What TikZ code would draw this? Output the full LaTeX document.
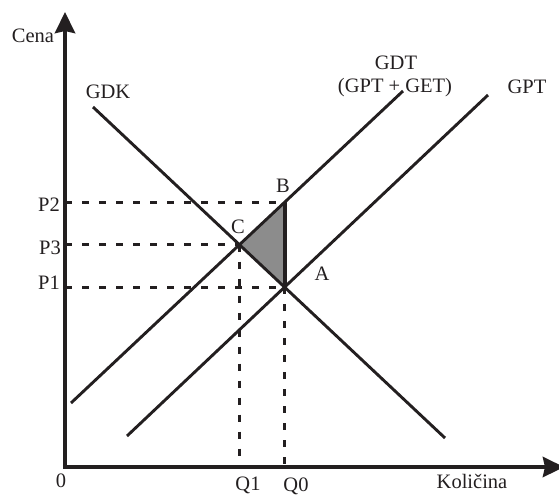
\documentclass[tikz,border=0pt]{standalone}
\usepackage{fontspec}
\setmainfont{Liberation Serif}
\usetikzlibrary{arrows.meta}
\definecolor{ink}{HTML}{231F20}
\definecolor{trifill}{HTML}{8C8C8C}
\tikzset{
  axisline/.style={ink, line width=4.4pt, -{Stealth[length=21pt,width=20pt,inset=2pt]}},
  curveline/.style={ink, line width=2.9pt},
  guideline/.style={ink, line width=3.4pt, dash pattern=on 7pt off 10pt},
  lbl/.style={inner sep=0pt, anchor=base, text=ink, font=\fontsize{20.5}{24}\selectfont},
  lble/.style={lbl, anchor=base east}
}
\begin{document}
\begin{tikzpicture}[x=1pt,y=-1pt]
\useasboundingbox (0,0) rectangle (559,496);
% key points
\coordinate (O) at (65,467);
\coordinate (ytop) at (65,12);
\coordinate (xend) at (564,467);
\coordinate (C) at (239.4,244.6);
\coordinate (A) at (284.6,287.2);
\coordinate (B) at (284.6,202.3);
\coordinate (kS) at (93,107);
\coordinate (kE) at (445,438);
\coordinate (tS) at (71,403);
\coordinate (tE) at (403,91);
\coordinate (pS) at (127,436);
\coordinate (pE) at (488,95);
\coordinate (yP2) at (O |- B);
\coordinate (yP3) at (O |- C);
\coordinate (yP1) at (O |- A);
\coordinate (xQ1) at (C |- O);
\coordinate (xQ0) at (A |- O);
% shaded triangle
\fill[trifill] (C) -- (B) -- (A) -- cycle;
% guides
\draw[guideline] (yP2) -- (B);
\draw[guideline] (yP3) -- (C);
\draw[guideline] (yP1) -- (A);
\draw[guideline] (C) -- (xQ1);
\draw[guideline] (A) -- (xQ0);
% curves
\draw[curveline] (kS) -- (kE);
\draw[curveline] (tS) -- (tE);
\draw[curveline] (pS) -- (pE);
\draw[ink, line width=3.8pt] (B) -- (A);
% axes
\draw[axisline] (O) -- (ytop);
\draw[axisline] ([xshift=-2.2pt]O) -- (xend);
% labels
\node[lbl] (lCena) at (33,42) {Cena};
\node[lbl] (lGDK) at (108,98) {GDK};
\node[lbl] (lGDT) at (396,69) {GDT};
\node[lbl] (lGDT2) at (395,92) {(GPT + GET)};
\node[lbl] (lGPT) at (527,93) {GPT};
\node[lbl] (lB) at (283,192) {B};
\node[lbl] (lC) at (238,233) {C};
\node[lbl] (lA) at (322,280) {A};
\node[lble] (lP2) at (60,211) {P2};
\node[lble] (lP3) at (61,254) {P3};
\node[lble] (lP1) at (60,289) {P1};
\node[lbl] (l0) at (61,487) {0};
\node[lbl] (lQ1) at (248,490) {Q1};
\node[lbl] (lQ0) at (296,491.5) {Q0};
\node[lbl] (lKol) at (472,488) {Količina};
\end{tikzpicture}
\end{document}
